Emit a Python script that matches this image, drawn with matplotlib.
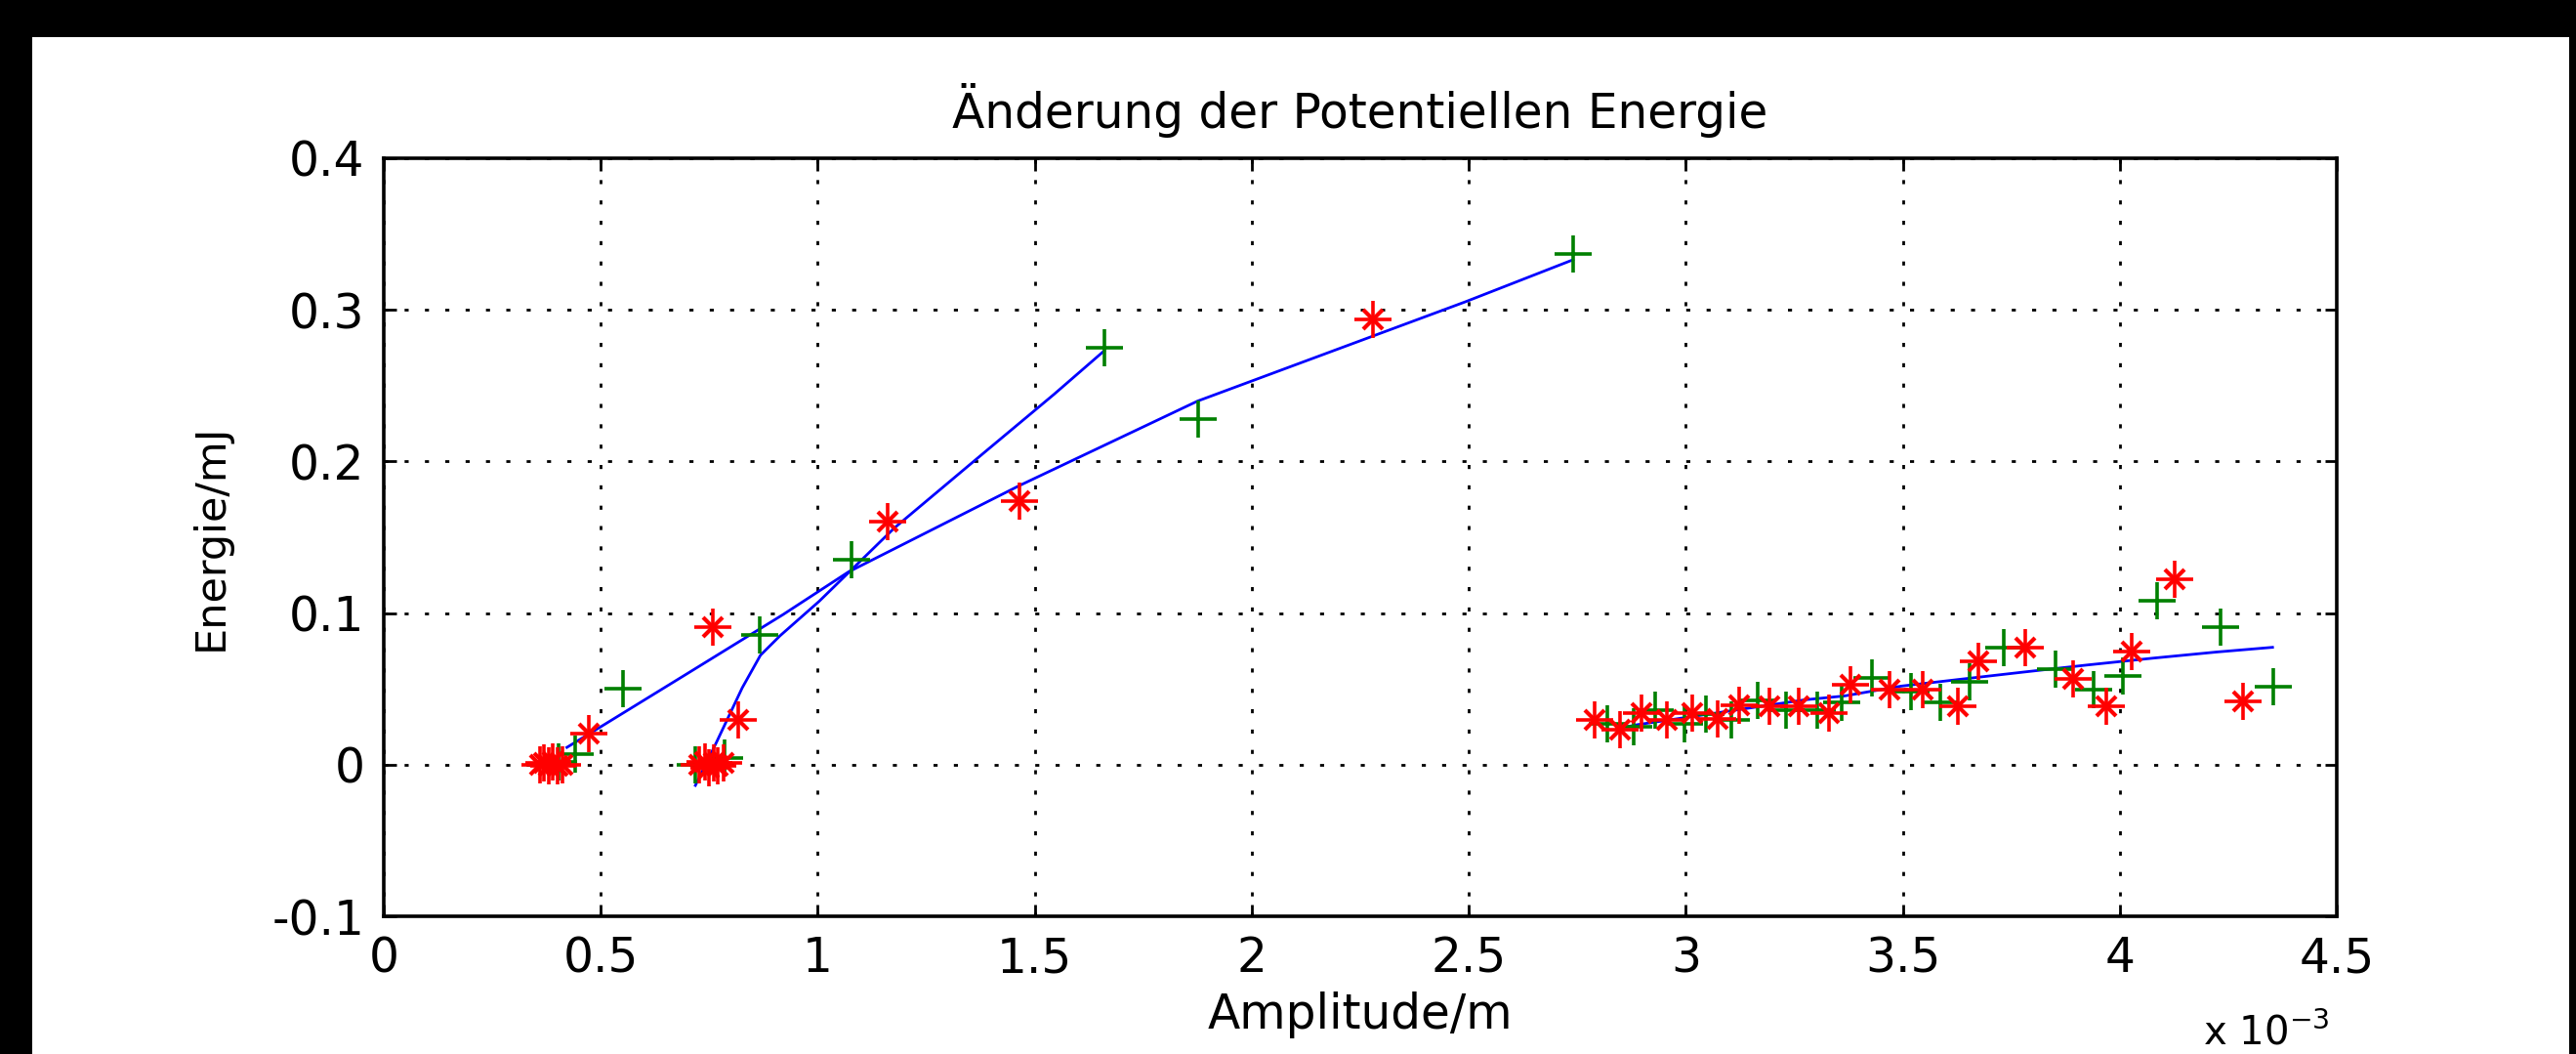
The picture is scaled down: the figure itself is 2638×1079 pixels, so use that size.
import matplotlib
matplotlib.use('Agg')
import matplotlib.pyplot as plt
from matplotlib.patches import Rectangle

# Amplitudes are given in units of 1e-3 m (axis shows "x 10^-3")
SCALE = 1e-3

# Green "+" measurements
green_x = [0.403, 0.440, 0.551, 0.718, 0.786, 0.866, 1.078, 1.661, 1.876, 2.740,
           2.820, 2.881, 2.929, 2.996, 3.046, 3.104, 3.165, 3.232, 3.303, 3.360,
           3.429, 3.519, 3.586, 3.654, 3.733, 3.852, 3.939, 4.007, 4.086, 4.233, 4.354]
green_y = [0.002, 0.007, 0.050, 0.000, 0.0045, 0.0857, 0.135, 0.2753, 0.228, 0.3366,
           0.027, 0.025, 0.0361, 0.027, 0.0335, 0.0292, 0.0426, 0.0361, 0.0361, 0.0411,
           0.0572, 0.0479, 0.0411, 0.0544, 0.0769, 0.0632, 0.0496, 0.0587, 0.1083, 0.0905, 0.0516]

# Red "*" measurements
red_x = [0.360, 0.370, 0.380, 0.390, 0.400, 0.412, 0.473,
         0.727, 0.740, 0.750, 0.760, 0.770, 0.782, 0.758, 0.817, 1.161, 1.464, 2.280,
         2.790, 2.849, 2.899, 2.957, 3.016, 3.074, 3.124, 3.192, 3.260, 3.330, 3.380,
         3.469, 3.546, 3.626, 3.674, 3.782, 3.892, 3.969, 4.027, 4.126, 4.283]
red_y = [0.000, 0.001, -0.001, 0.002, -0.001, 0.000, 0.0206,
         0.000, 0.002, -0.002, 0.001, -0.001, 0.001, 0.0905, 0.0297, 0.1603, 0.1739, 0.2936,
         0.0292, 0.0228, 0.0342, 0.0292, 0.0342, 0.0299, 0.0389, 0.0385, 0.0385, 0.0340, 0.0524,
         0.0496, 0.0496, 0.0385, 0.0679, 0.0769, 0.0565, 0.0385, 0.0748, 0.1220, 0.0415]

# Blue fitted curves (vertices)
fitA_x = [0.718, 0.767, 0.826, 0.868, 0.913, 1.003, 1.176, 1.382, 1.544, 1.660]
fitA_y = [-0.0137, 0.015, 0.0507, 0.0722, 0.085, 0.1077, 0.156, 0.2055, 0.2442, 0.273]
fitB_x = [0.422, 0.500, 0.695, 0.920, 1.070, 1.464, 1.875, 2.280, 2.493, 2.740]
fitB_y = [0.0114, 0.025, 0.0593, 0.099, 0.127, 0.184, 0.2398, 0.2828, 0.3054, 0.333]
fitC_x = [2.865, 2.889, 3.275, 3.365, 3.496, 3.626, 3.776, 3.927, 4.078, 4.223, 4.352]
fitC_y = [0.025, 0.0264, 0.0428, 0.0453, 0.0518, 0.0561, 0.061, 0.0658, 0.0703, 0.0743, 0.0774]

x_ticks = [0, 0.5, 1, 1.5, 2, 2.5, 3, 3.5, 4, 4.5]
x_tick_labels = ['0', '0.5', '1', '1.5', '2', '2.5', '3', '3.5', '4', '4.5']
y_ticks = [-0.1, 0, 0.1, 0.2, 0.3, 0.4]
y_tick_labels = ['-0.1', '0', '0.1', '0.2', '0.3', '0.4']

W, H = 2638, 1079
fig = plt.figure(figsize=(W / 100, H / 100), dpi=100, facecolor='black')
fig.add_artist(Rectangle((33 / W, 0), (2631 - 33) / W, (H - 38) / H,
                         transform=fig.transFigure, facecolor='white',
                         edgecolor='none', zorder=-10))

ax = fig.add_axes([393 / W, (H - 938) / H, 2000 / W, 776 / H])


def sc(v):
    return [a * SCALE for a in v]


for fx, fy in ((fitA_x, fitA_y), (fitB_x, fitB_y), (fitC_x, fitC_y)):
    ax.plot(sc(fx), fy, color='#0000FF', lw=2.0, zorder=3)

ax.plot(sc(green_x), green_y, linestyle='none', marker='+', color='#008000',
        ms=27, mew=2.6, zorder=4)
ax.plot(sc(red_x), red_y, linestyle='none', marker='+', color='#FF0000',
        ms=27, mew=2.6, zorder=5)
ax.plot(sc(red_x), red_y, linestyle='none', marker='x', color='#FF0000',
        ms=14, mew=3.0, zorder=5)

ax.set_xlim(0, 4.5 * SCALE)
ax.set_ylim(-0.1, 0.4)
ax.set_xticks(sc(x_ticks))
ax.set_xticklabels(x_tick_labels)
ax.set_yticks(y_ticks)
ax.set_yticklabels(y_tick_labels)

ax.grid(True, color='black', linestyle=(0, (1.5, 6)), linewidth=2)
ax.set_axisbelow(True)
for s in ax.spines.values():
    s.set_linewidth(2.6)
    s.set_color('black')
ax.tick_params(direction='in', length=9, width=2, top=True, right=True,
               labelsize=35, pad=14, colors='black')

ax.set_title('Änderung der Potentiellen Energie', fontsize=35, pad=22)
ax.set_xlabel('Amplitude/m', fontsize=35, labelpad=7)
ax.set_ylabel('Energie/mJ', fontsize=31, labelpad=30)

fig.text(2386 / W, 0, r'x $\mathregular{10^{-3}}$', ha='right', va='bottom',
         fontsize=29)

fig.savefig('out.png', dpi=100, facecolor=fig.get_facecolor())
